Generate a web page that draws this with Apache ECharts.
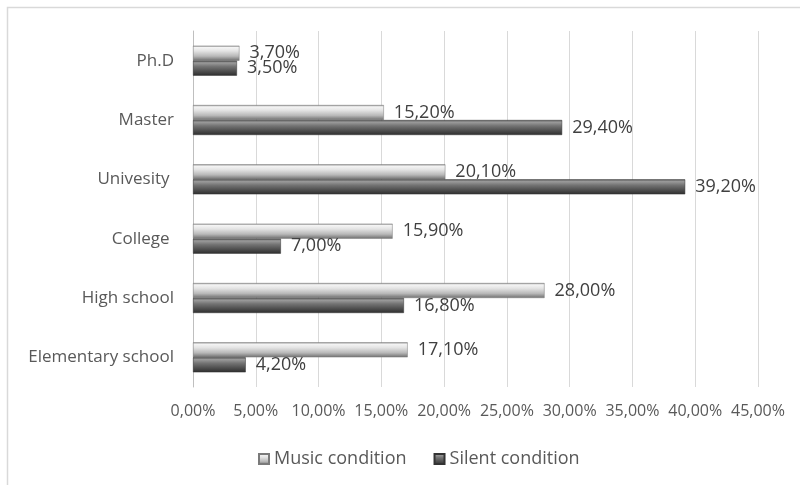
<!DOCTYPE html>
<html>
<head>
<meta charset="utf-8">
<script src="https://cdn.jsdelivr.net/npm/echarts@6/dist/echarts.min.js"></script>
<style>
  html, body { margin: 0; padding: 0; background: #fff; }
  #chart { width: 800px; height: 485px; }
</style>
</head>
<body>
<div id="chart"></div>
<script>
// Education level categories, bottom to top
const categories = ['Elementary school', 'High school', 'College ', 'Univesity ', 'Master', 'Ph.D'];
// Percentages per condition
const musicValues = [17.1, 28.0, 15.9, 20.1, 15.2, 3.7];
const silentValues = [4.2, 16.8, 7.0, 39.2, 29.4, 3.5];
// Axis ticks
const xTicks = [0, 5, 10, 15, 20, 25, 30, 35, 40, 45];

const FONT = 'Open Sans';
const fmtPct = v => v.toFixed(2).replace('.', ',') + '%';

const chart = echarts.init(document.getElementById('chart'), null, { renderer: 'canvas' });

// Bevelled fills
const musicFill = new echarts.graphic.LinearGradient(0, 0, 0, 1, [
  { offset: 0, color: '#8a8a8a' },
  { offset: 0.12, color: '#f4f4f4' },
  { offset: 0.35, color: '#e4e4e4' },
  { offset: 0.7, color: '#b8b8b8' },
  { offset: 1, color: '#6e6e6e' }
]);
const silentFill = new echarts.graphic.LinearGradient(0, 0, 0, 1, [
  { offset: 0, color: '#5a5a5a' },
  { offset: 0.15, color: '#9a9a9a' },
  { offset: 0.4, color: '#727272' },
  { offset: 0.75, color: '#4a4a4a' },
  { offset: 1, color: '#2e2e2e' }
]);

const valueLabel = {
  show: true, position: 'right', distance: 10,
  fontFamily: FONT, fontSize: 18, color: '#404040',
  formatter: p => fmtPct(p.value)
};

chart.setOption({
  animation: false,
  backgroundColor: '#fff',
  graphic: [{
    type: 'rect',
    shape: { x: 7.5, y: 7.5, width: 820, height: 500 },
    style: { fill: 'none', stroke: '#d9d9d9', lineWidth: 1.5 },
    silent: true
  }],
  grid: { left: 193, right: 42, top: 31, bottom: 98, containLabel: false },
  legend: {
    bottom: 12,
    left: 253,
    itemWidth: 10,
    itemHeight: 10,
    itemGap: 27,
    icon: 'rect',
    textStyle: { fontFamily: FONT, fontSize: 18, color: '#595959' },
    data: ['Music condition', 'Silent condition']
  },
  xAxis: {
    type: 'value',
    min: xTicks[0],
    max: xTicks[xTicks.length - 1],
    interval: 5,
    axisLine: { show: false },
    axisTick: { show: false },
    splitLine: { show: true, lineStyle: { color: '#d9d9d9', width: 1 } },
    axisLabel: {
      fontFamily: FONT, fontSize: 16, color: '#595959', margin: 16,
      formatter: v => fmtPct(v)
    }
  },
  yAxis: {
    type: 'category',
    data: categories,
    axisLine: { show: true, lineStyle: { color: '#bfbfbf', width: 1 } },
    axisTick: { show: false },
    axisLabel: { fontFamily: FONT, fontSize: 17, color: '#595959', margin: 19 }
  },
  series: [
    {
      name: 'Music condition',
      type: 'bar',
      data: musicValues,
      barWidth: 15,
      barGap: '0%',
      itemStyle: { color: musicFill, borderColor: '#7a7a7a', borderWidth: 0.5 },
      label: valueLabel
    },
    {
      name: 'Silent condition',
      type: 'bar',
      data: silentValues,
      barWidth: 15,
      barGap: '0%',
      itemStyle: { color: silentFill, borderColor: '#333', borderWidth: 0.5 },
      label: valueLabel
    }
  ]
});
</script>
</body>
</html>
